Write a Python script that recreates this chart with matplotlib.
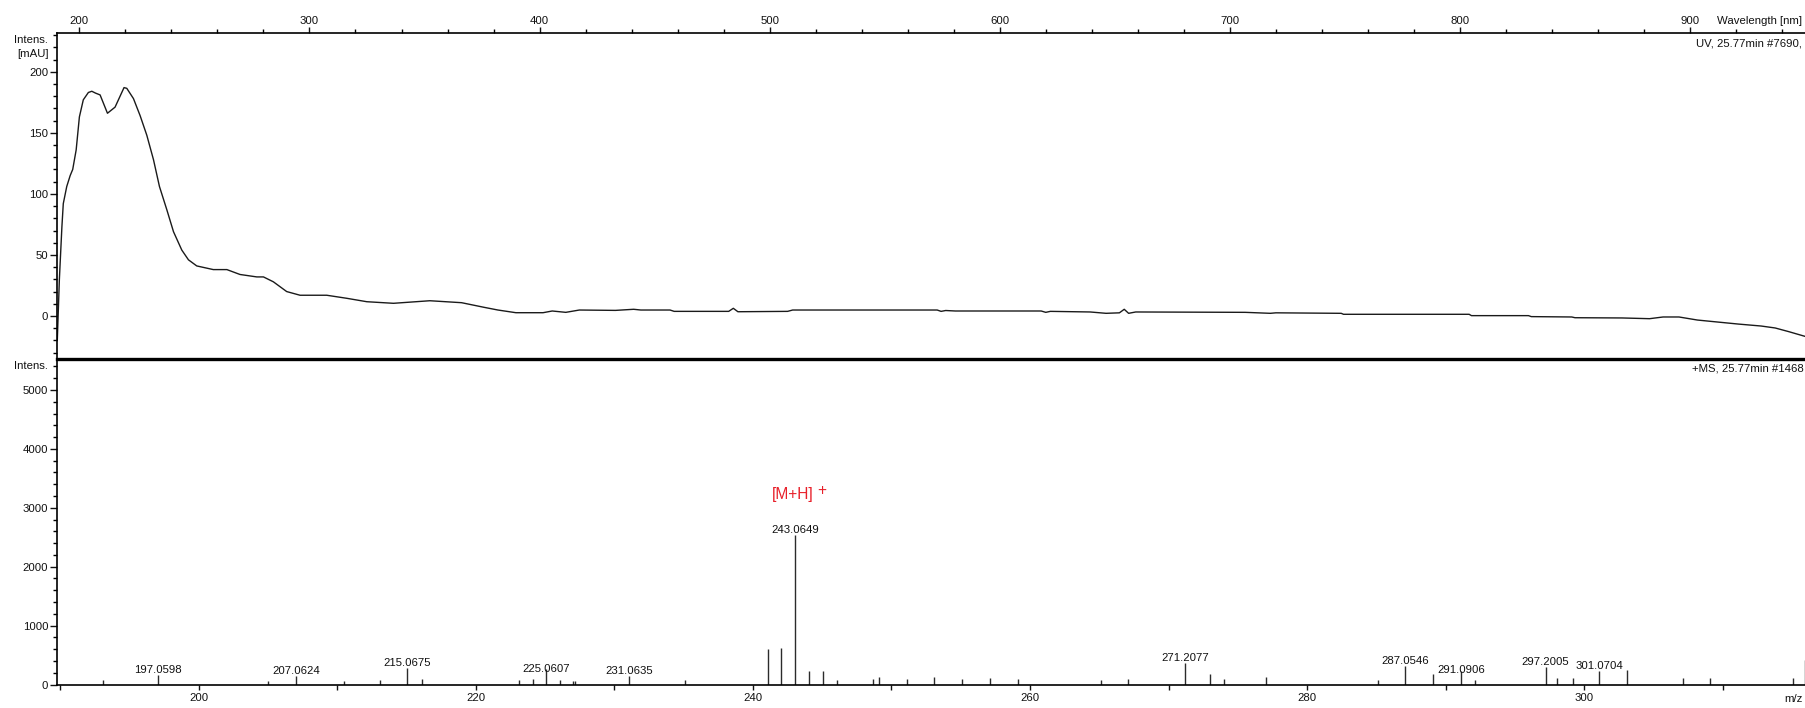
import matplotlib
matplotlib.use("Agg")
import matplotlib.pyplot as plt
from matplotlib.ticker import MultipleLocator

plt.rcParams['font.family'] = ['Liberation Sans', 'DejaVu Sans']

# ---------------- data ----------------
uv_wavelength = [190.4, 191.3, 192.4, 193.0, 194.5, 196.0, 197.1, 198.6, 200.0, 201.7,
                 203.9, 205.4, 207.0, 209.0, 212.2, 215.5, 219.4, 220.6, 223.5, 226.4,
                 229.3, 232.2, 234.8, 238.0, 240.9, 244.5, 247.4, 251.0, 258.2, 264.1,
                 269.8, 277.1, 280.0, 284.3, 290.1, 295.9, 307.5, 316.2, 324.9, 336.5,
                 352.3, 366.1, 375.9, 381.9, 389.7, 401.5, 405.5, 411.4, 417.3, 433.0,
                 440.9, 444.0, 456.7, 458.5, 482.2, 484.2, 486.2, 507.8, 510.0, 572.8,
                 574.5, 576.5, 580.7, 618.0, 620.0, 622.0, 639.3, 646.2, 652.0, 654.1,
                 656.0, 659.1, 706.7, 717.6, 720.0, 748.4, 749.4, 804.0, 805.0, 829.8,
                 831.0, 848.6, 850.0, 870.5, 882.4, 888.3, 895.2, 903.2, 909.1, 921.0,
                 930.9, 937.0, 942.9, 950.4]
uv_intensity = [-20.0, 30.0, 73.0, 92.0, 106.0, 115.0, 120.0, 136.0, 163.0, 177.0,
                183.0, 184.0, 182.5, 181.0, 166.0, 171.0, 187.0, 186.4, 178.0, 164.0,
                148.0, 128.0, 106.0, 87.0, 69.0, 54.0, 46.0, 41.0, 38.0, 38.0,
                34.0, 32.0, 32.0, 28.0, 20.0, 17.0, 17.0, 14.5, 11.7, 10.4,
                12.5, 10.9, 7.1, 4.9, 2.7, 2.7, 4.1, 3.0, 4.9, 4.6,
                5.5, 4.9, 4.9, 3.8, 3.8, 6.3, 3.5, 3.8, 4.9, 4.9,
                3.8, 4.5, 4.1, 4.1, 3.0, 3.8, 3.3, 2.2, 2.6, 5.5,
                2.2, 3.3, 3.0, 2.2, 2.6, 2.2, 1.4, 1.4, 0.3, 0.3,
                -0.5, -0.8, -1.4, -1.6, -2.2, -0.8, -0.8, -3.3, -4.4, -6.6,
                -8.2, -9.8, -12.8, -16.9]

ms_mz = [193.1, 197.0598, 204.97, 207.0624, 210.5, 213.1, 215.0675, 216.1, 223.1, 224.1,
         225.0607, 226.1, 227.0, 227.15, 231.0635, 235.1, 241.06, 242.06, 243.0649, 244.07,
         245.07, 246.1, 248.7, 249.1, 251.1, 253.1, 255.1, 257.1, 259.1, 265.1,
         267.05, 271.2077, 273.0, 274.0, 277.0, 285.1, 287.0546, 289.1, 291.0906, 292.1,
         297.2005, 298.05, 299.15, 301.0704, 303.1, 307.1, 309.1, 315.05, 315.95]
ms_intensity = [74, 155, 62, 145, 62, 74, 281, 91, 80, 99,
                258, 80, 65, 65, 144, 80, 605, 622, 2540, 235,
                235, 78, 90, 134, 90, 134, 90, 112, 90, 78,
                95, 360, 185, 90, 134, 80, 314, 187, 229, 80,
                302, 113, 113, 234, 244, 113, 113, 113, 420]
ms_labels = ['197.0598', '207.0624', '215.0675', '225.0607', '231.0635', '243.0649',
             '271.2077', '287.0546', '291.0906', '297.2005', '301.0704']

uv_title = "UV, 25.77min #7690,"
ms_title = "+MS, 25.77min #1468"
ion_label = "[M+H]"
ion_charge = "+"

# ---------------- layout ----------------
W, H = 1806, 708
FS = 8.2
TXT = '#111111'
fig = plt.figure(figsize=(W / 100, H / 100), dpi=100)


def rect(l, t, r, b):
    return [l / W, 1 - b / H, (r - l) / W, (b - t) / H]


ax_uv = fig.add_axes(rect(57.3, 33, 1806, 359))
ax_ms = fig.add_axes(rect(57.3, 359, 1806, 685))

# ---- UV panel ----
ax_uv.plot(uv_wavelength, uv_intensity, color='#1a1a1a', lw=1.0)
ax_uv.set_xlim(190.4, 950.4)
ax_uv.set_ylim(-35.2, 231.7)
ax_uv.xaxis.tick_top()
ax_uv.xaxis.set_major_locator(MultipleLocator(100))
ax_uv.xaxis.set_minor_locator(MultipleLocator(20))
ax_uv.yaxis.set_major_locator(MultipleLocator(50))
ax_uv.yaxis.set_minor_locator(MultipleLocator(10))
for s in ['right', 'bottom']:
    ax_uv.spines[s].set_visible(False)
ax_uv.spines['top'].set_linewidth(1.2)
ax_uv.spines['left'].set_linewidth(1.2)
ax_uv.tick_params(axis='x', which='major', direction='out', length=4.3, width=1.0,
                  labelsize=FS, pad=0.8, colors=TXT)
ax_uv.tick_params(axis='x', which='minor', direction='out', length=2.9, width=1.0)
ax_uv.tick_params(axis='y', which='major', direction='out', length=5, width=1.0,
                  labelsize=FS, pad=1.5, colors=TXT)
ax_uv.tick_params(axis='y', which='minor', direction='out', length=3, width=1.0)

# ---- MS panel ----
ax_ms.vlines(ms_mz, 0, ms_intensity, colors='#2b2b2b', lw=1.0)
ax_ms.set_xlim(189.8, 316.0)
ax_ms.set_ylim(-8, 5526)
ax_ms.xaxis.set_major_locator(MultipleLocator(20))
ax_ms.xaxis.set_minor_locator(MultipleLocator(10))
ax_ms.yaxis.set_major_locator(MultipleLocator(1000))
ax_ms.yaxis.set_minor_locator(MultipleLocator(200))
ax_ms.spines['right'].set_visible(False)
ax_ms.spines['top'].set_linewidth(2.4)
ax_ms.spines['left'].set_linewidth(1.2)
ax_ms.spines['bottom'].set_linewidth(1.2)
ax_ms.tick_params(axis='x', which='both', direction='out', length=3.5, width=1.0,
                  labelsize=FS, pad=2.0, colors=TXT)
ax_ms.tick_params(axis='y', which='major', direction='out', length=5, width=1.0,
                  labelsize=FS, pad=1.5, colors=TXT)
ax_ms.tick_params(axis='y', which='minor', direction='out', length=3, width=1.0)

label_offset_pt = {'225.0607': -1.7, '291.0906': -1.6}
for lab in ms_labels:
    i = ms_mz.index(float(lab))
    ax_ms.annotate(lab, xy=(ms_mz[i], ms_intensity[i]),
                   xytext=(0, label_offset_pt.get(lab, 1.6)), textcoords='offset points',
                   ha='center', va='baseline', fontsize=FS, color=TXT)

i_main = ms_intensity.index(max(ms_intensity))
ax_ms.annotate(ion_label, xy=(ms_mz[i_main], ms_intensity[i_main]),
               xytext=(-2.2, 25.5), textcoords='offset points',
               ha='center', va='baseline', fontsize=11.2, color='#e8202a')
ax_ms.annotate(ion_charge, xy=(ms_mz[i_main], ms_intensity[i_main]),
               xytext=(18.8, 28.5), textcoords='offset points',
               ha='center', va='baseline', fontsize=11.2, color='#e8202a')

# ---- texts ----
def ftext(x, y, s, **kw):
    fig.text(x / W, 1 - y / H, s, fontsize=FS, color=TXT, va='baseline', **kw)


ftext(48.5, 43.3, "Intens.", ha='right')
ftext(48.5, 57.3, "[mAU]", ha='right')
ftext(48.5, 369.3, "Intens.", ha='right')
ftext(1717, 24.0, "Wavelength [nm]", ha='left')
ftext(1802, 46.7, uv_title, ha='right')
ftext(1804, 371.7, ms_title, ha='right')
ftext(1803, 702.5, "m/z", ha='right')

fig.savefig("out.png", dpi=100)
